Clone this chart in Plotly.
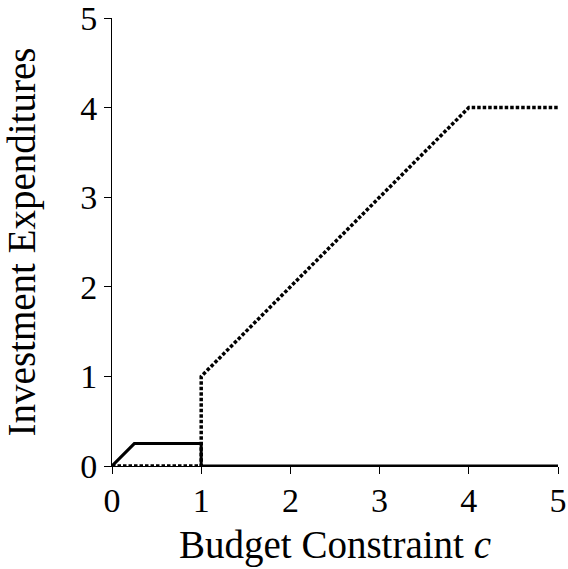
import plotly.graph_objects as go

# Data
solid_x = [0, 0.25, 1, 1, 5]
solid_y = [0, 0.25, 0.25, 0, 0]
dotted_x = [0, 1, 1, 4, 5]
dotted_y = [0, 0, 1, 4, 4]
tick_vals = [0, 1, 2, 3, 4, 5]
x_title = "Budget Constraint <i>c</i>"
y_title = "Investment Expenditures"

FONT = "Liberation Serif"

fig = go.Figure()
fig.add_trace(go.Scatter(x=dotted_x, y=dotted_y, mode="lines",
                         line=dict(color="black", width=3.5, dash="3.5px,2px"),
                         cliponaxis=False, showlegend=False))
fig.add_trace(go.Scatter(x=solid_x, y=solid_y, mode="lines",
                         line=dict(color="black", width=3),
                         cliponaxis=False, showlegend=False))

axis_common = dict(range=[0, 5], tickvals=tick_vals, showgrid=False, zeroline=False,
                   showline=True, linecolor="black", linewidth=1, automargin=False,
                   ticks="outside", ticklen=7, tickwidth=1, tickcolor="black",
                   ticklabeloverflow="allow",
                   tickfont=dict(family=FONT, size=34, color="black"))

fig.update_xaxes(**axis_common, ticklabelstandoff=-3,
                 title=dict(text=x_title, font=dict(family=FONT, size=39, color="black"), standoff=12))
fig.update_yaxes(**axis_common,
                 title=dict(text=y_title, font=dict(family=FONT, size=39, color="black"), standoff=32))

fig.update_layout(width=568, height=569, margin=dict(l=112, r=10, t=18, b=103),
                  plot_bgcolor="white", paper_bgcolor="white")

fig.write_html("out.html")
